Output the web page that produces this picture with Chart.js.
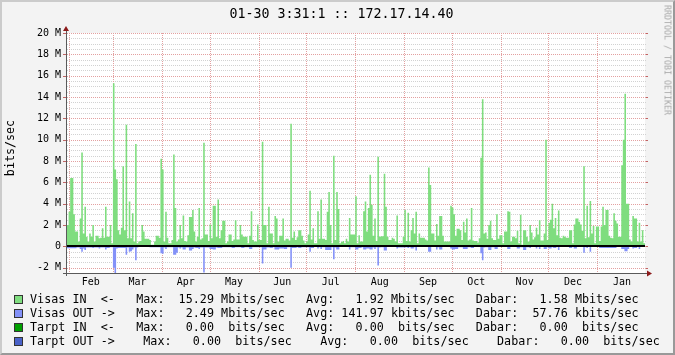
<!DOCTYPE html>
<html><head><meta charset="utf-8">
<script src="https://cdn.jsdelivr.net/npm/chart.js@4.4.1/dist/chart.umd.min.js"></script>
<style>
html,body{margin:0;padding:0;}
body{width:675px;height:355px;overflow:hidden;}
#wrap{position:relative;width:675px;height:355px;background:#f3f3f3;font-family:"DejaVu Sans Mono",monospace;color:#000;}
#c{position:absolute;left:0;top:0;}
#frame{position:absolute;left:0;top:0;width:675px;height:355px;box-sizing:border-box;border-style:solid;border-width:2px;border-color:#cbcbcb #999 #999 #cbcbcb;pointer-events:none;}
.t{position:absolute;white-space:pre;}
#title{left:4px;top:6px;width:675px;text-align:center;font-size:13.3px;line-height:16px;}
#unit{left:10px;top:148px;font-size:11.7px;line-height:12px;transform:translate(-50%,-50%) rotate(-90deg);}
#wm{left:667px;top:60px;font-size:8.3px;line-height:9px;color:#a8a8a8;transform:translate(-50%,-50%) rotate(90deg);}
.row{left:30px;font-size:11.7px;line-height:14px;letter-spacing:0.04px;}
.box{position:absolute;left:14px;width:7px;height:7px;border:1px solid #333;}
</style></head>
<body><div id="wrap">
<canvas id="c" width="675" height="355"></canvas>
<div id="title" class="t"></div>
<div id="unit" class="t"></div>
<div id="wm" class="t"></div>
<div id="legend"></div>
<div id="frame"></div>
</div>
<script>
// ---- data (values in Mbit/s, one per day) ----
const titleText = "01-30 3:31:1 :: 172.17.14.40";
const unitText = "bits/sec";
const watermark = "RRDTOOL / TOBI OETIKER";
const monthNames = ['Feb','Mar','Apr','May','Jun','Jul','Aug','Sep','Oct','Nov','Dec','Jan'];
const monthStarts = [1,29,60,90,121,151,182,213,243,274,304,335];
const periodEnd = 366;
const yMajorStep = 2;
const yMinorStep = 0.5;

const visasIn = [
2.0,3.25,6.4,6.4,3.0,1.4,1.4,0.45,2.6,8.8,
1.2,3.7,0.9,0.45,1.2,0.9,2.0,0.45,1.0,1.0,
0.75,0.8,1.7,0.8,3.7,0.9,0.9,2.0,0.3,15.29,
7.2,6.3,1.5,1.1,1.75,7.5,1.5,11.4,0.75,4.2,
0.75,3.1,0.45,9.6,0.3,0.45,0.5,2.0,1.4,0.7,
0.7,0.7,0.6,0.15,0.15,0.45,1.0,1.0,0.8,8.2,
7.2,0.45,3.25,0.8,0.3,0.3,0.6,8.6,3.6,0.45,
0.65,2.0,0.75,2.9,0.5,0.45,1.05,2.75,2.75,3.4,
1.4,0.45,0.9,3.6,0.65,0.75,9.7,1.1,1.1,0.5,
2.05,0.75,3.8,3.8,0.9,4.4,0.75,1.5,2.4,2.4,
0.3,0.45,1.1,1.1,0.5,0.65,2.45,0.65,0.65,2.0,
1.1,0.9,0.9,0.9,0.3,1.0,3.3,0.6,0.45,0.45,
2.05,0.6,0.6,9.8,2.0,2.0,0.3,3.7,1.2,1.2,
0.3,2.85,2.6,0.45,1.0,1.0,2.6,0.55,0.7,0.7,
0.55,11.5,0.8,1.4,0.6,0.85,1.5,1.5,1.0,0.55,
0.3,0.45,1.1,5.2,0.65,1.7,0.3,0.3,3.3,0.7,
4.4,0.7,0.7,0.6,3.25,5.1,2.0,0.3,8.5,0.6,
5.1,3.5,0.3,0.4,0.5,0.3,0.7,0.45,2.65,1.1,
1.1,1.1,4.7,0.3,1.05,0.45,0.45,3.3,4.2,1.4,
3.6,6.7,3.9,1.0,2.6,0.5,8.4,0.9,0.95,0.95,
6.8,3.7,0.9,0.6,0.6,0.8,0.7,0.45,2.9,0.3,
0.3,0.3,0.9,3.4,0.5,3.15,0.45,1.5,2.65,1.2,
3.25,0.3,1.2,0.8,0.8,0.8,0.65,0.55,7.4,5.75,
1.2,1.2,0.55,2.1,1.0,2.85,2.85,1.0,0.45,0.45,
0.45,0.45,3.8,3.65,3.0,1.0,1.65,1.65,1.5,0.6,
2.3,1.3,2.6,0.55,0.65,3.6,0.55,0.5,0.5,0.35,
0.75,8.3,13.8,1.2,1.3,0.7,2.0,2.4,0.75,0.6,
0.6,3.0,0.7,1.05,1.05,0.3,1.4,1.4,3.3,3.25,
0.45,0.9,0.9,0.75,1.45,0.3,2.95,0.15,1.5,1.5,
0.9,0.45,2.0,1.3,0.65,0.85,1.75,1.1,2.45,0.55,
0.55,1.2,10.0,0.6,2.2,2.5,4.0,1.7,2.65,1.05,
3.35,0.8,0.75,1.0,0.9,0.8,0.8,1.5,1.5,0.3,
2.05,2.6,2.6,2.3,2.05,1.45,7.5,0.75,3.8,0.85,
4.25,1.2,1.9,0.3,1.85,1.85,0.5,1.85,3.7,2.0,
3.4,3.4,1.0,0.8,0.75,3.1,2.4,2.15,0.9,0.9,
7.6,10.0,14.3,4.0,4.0,0.65,0.45,2.85,2.6,2.6,
0.45,2.2,0.45,1.5,0.3
];

const visasOut = [
-0.17,-0.17,-0.17,-0.17,-0.17,-0.17,-0.1,-0.1,-0.25,-0.5,
-0.2,-0.35,-0.1,-0.1,-0.1,-0.1,-0.15,-0.1,-0.1,-0.1,
-0.2,-0.1,-0.1,-0.1,-0.3,-0.15,-0.15,-0.08,-0.08,-2.0,
-2.49,-0.2,-0.15,-0.15,-0.15,-0.15,-0.15,-0.8,-0.1,-0.5,
-0.45,-0.3,-0.1,-1.3,-0.1,-0.06,-0.06,-0.06,-0.06,-0.06,
-0.06,-0.06,-0.08,-0.08,-0.08,-0.08,-0.08,-0.08,-0.08,-0.65,
-0.7,-0.1,-0.25,-0.08,-0.08,-0.08,-0.08,-0.8,-0.8,-0.6,
-0.1,-0.2,-0.1,-0.3,-0.3,-0.1,-0.1,-0.4,-0.4,-0.25,
-0.1,-0.15,-0.15,-0.25,-0.1,-0.1,-2.45,-0.1,-0.1,-0.1,
-0.25,-0.25,-0.3,-0.3,-0.1,-0.15,-0.15,-0.15,-0.08,-0.08,
-0.08,-0.08,-0.08,-0.08,-0.15,-0.15,-0.08,-0.08,-0.08,-0.08,
-0.15,-0.15,-0.08,-0.08,-0.08,-0.25,-0.25,-0.08,-0.08,-0.08,
-0.08,-0.08,-0.08,-1.6,-0.3,-0.3,-0.1,-0.1,-0.15,-0.15,
-0.08,-0.3,-0.3,-0.3,-0.2,-0.2,-0.2,-0.25,-0.25,-0.08,
-0.08,-2.0,-0.15,-0.15,-0.15,-0.08,-0.15,-0.15,-0.08,-0.08,
-0.08,-0.08,-0.08,-0.5,-0.15,-0.15,-0.06,-0.06,-0.2,-0.08,
-0.25,-0.08,-0.08,-0.35,-0.35,-0.35,-0.35,-0.08,-1.2,-0.1,
-0.3,-0.3,-0.06,-0.06,-0.06,-0.06,-0.06,-0.06,-0.3,-0.08,
-0.08,-0.08,-0.3,-0.3,-0.15,-0.15,-0.08,-0.3,-0.3,-0.2,
-0.2,-0.3,-0.3,-0.1,-0.25,-0.08,-1.8,-0.1,-0.08,-0.08,
-0.4,-0.4,-0.06,-0.06,-0.06,-0.06,-0.06,-0.06,-0.2,-0.1,
-0.1,-0.1,-0.1,-0.1,-0.08,-0.15,-0.08,-0.2,-0.2,-0.08,
-0.4,-0.06,-0.06,-0.06,-0.06,-0.06,-0.06,-0.06,-0.5,-0.5,
-0.06,-0.06,-0.06,-0.3,-0.08,-0.3,-0.3,-0.06,-0.06,-0.06,
-0.06,-0.06,-0.2,-0.3,-0.3,-0.25,-0.25,-0.08,-0.08,-0.08,
-0.25,-0.25,-0.25,-0.08,-0.08,-0.15,-0.15,-0.06,-0.06,-0.06,
-0.06,-0.65,-1.3,-0.1,-0.08,-0.08,-0.35,-0.35,-0.08,-0.08,
-0.25,-0.25,-0.06,-0.06,-0.06,-0.06,-0.06,-0.06,-0.25,-0.25,
-0.06,-0.06,-0.06,-0.06,-0.2,-0.2,-0.08,-0.08,-0.35,-0.35,
-0.08,-0.08,-0.15,-0.06,-0.06,-0.06,-0.2,-0.06,-0.25,-0.06,
-0.06,-0.25,-0.25,-0.08,-0.2,-0.2,-0.08,-0.15,-0.15,-0.06,
-0.35,-0.06,-0.06,-0.06,-0.06,-0.06,-0.06,-0.15,-0.15,-0.06,
-0.2,-0.2,-0.06,-0.06,-0.06,-0.06,-0.6,-0.08,-0.15,-0.06,
-0.5,-0.06,-0.06,-0.06,-0.06,-0.06,-0.15,-0.15,-0.15,-0.15,
-0.15,-0.15,-0.15,-0.15,-0.15,-0.15,-0.15,-0.06,-0.06,-0.06,
-0.25,-0.25,-0.45,-0.45,-0.25,-0.06,-0.06,-0.2,-0.15,-0.15,
-0.06,-0.25,-0.06,-0.06,-0.06
];

const legendRows = [
  {color:'#7fdd7f', text:'Visas IN  <-   Max:  15.29 Mbits/sec   Avg:   1.92 Mbits/sec   Dabar:   1.58 Mbits/sec'},
  {color:'#8391f8', text:'Visas OUT ->   Max:   2.49 Mbits/sec   Avg: 141.97 kbits/sec   Dabar:  57.76 kbits/sec'},
  {color:'#00a000', text:'Tarpt IN  <-   Max:   0.00  bits/sec   Avg:   0.00  bits/sec   Dabar:   0.00  bits/sec'},
  {color:'#4a62c8', text:'Tarpt OUT ->    Max:   0.00  bits/sec    Avg:   0.00  bits/sec    Dabar:   0.00  bits/sec'}
];

// ---- texts ----
document.getElementById('title').textContent = titleText;
document.getElementById('unit').textContent = unitText;
document.getElementById('wm').textContent = watermark;
const lg = document.getElementById('legend');
legendRows.forEach((r,i)=>{
  const cy = 299 + i*14;
  const b = document.createElement('div'); b.className='box';
  b.style.top = (cy-4.5)+'px'; b.style.background = r.color; lg.appendChild(b);
  const t = document.createElement('div'); t.className='t row';
  t.style.top = (cy-7)+'px'; t.textContent = r.text; lg.appendChild(t);
});

// ---- chart ----
const GREEN = legendRows[0].color, BLUE = legendRows[1].color;
const MGRID_DOT = '#e3a0a0', GRID_DOT = '#d2d2d2';
const mkPts = arr => arr.map((v,i)=>({x:i,y:v})).concat([{x:arr.length,y:arr[arr.length-1]}]);
const monthMids = monthStarts.map((s,i)=> (s + (i+1<monthStarts.length ? monthStarts[i+1] : periodEnd))/2);
const xTickVals = monthStarts.concat(monthMids).sort((a,b)=>a-b);
const yTickVals = [];
for (let v=-2; v<=20.001; v+=yMinorStep) yTickVals.push(Math.round(v*10)/10);
const isMajorY = v => Math.abs(v/yMajorStep - Math.round(v/yMajorStep))<1e-6;

const rrdPlugin = {
  id:'rrd',
  beforeDraw(chart){
    const {ctx, chartArea:a} = chart;
    ctx.save(); ctx.fillStyle='#fff';
    ctx.fillRect(a.left, a.top, a.right-a.left, a.bottom-a.top);
    ctx.restore();
  },
  beforeDatasetsDraw(chart){
    const {ctx, chartArea:a, scales:{x,y}} = chart;
    ctx.save();
    yTickVals.forEach(v=>{
      const p = Math.round(y.getPixelForValue(v));
      ctx.fillStyle = isMajorY(v) ? MGRID_DOT : GRID_DOT;
      for (let px=a.left; px<a.right+1; px+=2) ctx.fillRect(px, p, 1, 1);
    });
    ctx.fillStyle = MGRID_DOT;
    monthStarts.forEach(d=>{
      const p = Math.round(x.getPixelForValue(d));
      for (let py=a.top; py<a.bottom; py+=2) ctx.fillRect(p, py, 1, 1);
    });
    ctx.restore();
  },
  afterDatasetsDraw(chart){
    const {ctx, chartArea:a, scales:{x,y}} = chart;
    ctx.save();
    const y0 = Math.round(y.getPixelForValue(0));
    ctx.fillStyle='#000';
    ctx.fillRect(a.left, y0-1, a.right-a.left, 2);
    ctx.fillStyle='rgba(170,40,40,0.7)';
    yTickVals.filter(isMajorY).forEach(v=>{
      const p = Math.round(y.getPixelForValue(v));
      ctx.fillRect(a.left-4, p, 3, 1);
      ctx.fillRect(a.right+1, p, 2, 1);
    });
    ctx.fillStyle='#5a5a5a';
    ctx.fillRect(a.left-1, a.top-3, 1, a.bottom-a.top+6);
    ctx.fillRect(a.left-4, a.bottom, a.right-a.left+7, 1);
    ctx.fillStyle='#8c1a1a';
    ctx.beginPath(); ctx.moveTo(a.left-4, a.top-2); ctx.lineTo(a.left+2, a.top-2); ctx.lineTo(a.left-1, a.top-7); ctx.closePath(); ctx.fill();
    ctx.beginPath(); ctx.moveTo(a.right+2, a.bottom-2.5); ctx.lineTo(a.right+2, a.bottom+3.5); ctx.lineTo(a.right+7, a.bottom+0.5); ctx.closePath(); ctx.fill();
    ctx.restore();
  }
};

new Chart(document.getElementById('c'), {
  type:'line',
  data:{datasets:[
    {label:'Visas IN', data:mkPts(visasIn), stepped:true, fill:'origin', backgroundColor:GREEN, borderWidth:0, pointRadius:0},
    {label:'Visas OUT', data:mkPts(visasOut), stepped:true, fill:'origin', backgroundColor:BLUE, borderWidth:0, pointRadius:0}
  ]},
  options:{
    responsive:false, animation:false, devicePixelRatio:1,
    layout:{padding:{top:33,right:30,left:0,bottom:0}},
    plugins:{legend:{display:false}, tooltip:{enabled:false}},
    scales:{
      x:{type:'linear', min:0, max:365,
        afterBuildTicks:s=>{ s.ticks = xTickVals.map(v=>({value:v})); },
        afterFit:s=>{ s.height = 82; },
        ticks:{autoSkip:false, maxRotation:0, minRotation:0, padding:3, color:'#000',
          font:{family:'DejaVu Sans Mono', size:10},
          callback:(v)=>{ const i = monthMids.indexOf(v); return i>=0 ? monthNames[i] : ''; }},
        grid:{display:false, drawTicks:false},
        border:{display:false}
      },
      y:{type:'linear', min:-2.5, max:20,
        afterBuildTicks:s=>{ s.ticks = yTickVals.map(v=>({value:v})); },
        afterFit:s=>{ s.width = 67; },
        ticks:{autoSkip:false, padding:6, color:'#000',
          font:{family:'DejaVu Sans Mono', size:10},
          callback:(v)=> isMajorY(v) ? (v===0 ? '0' : v+' M') : ''},
        grid:{display:false, drawTicks:false},
        border:{display:false}
      }
    }
  },
  plugins:[rrdPlugin]
});
</script>
</body></html>
